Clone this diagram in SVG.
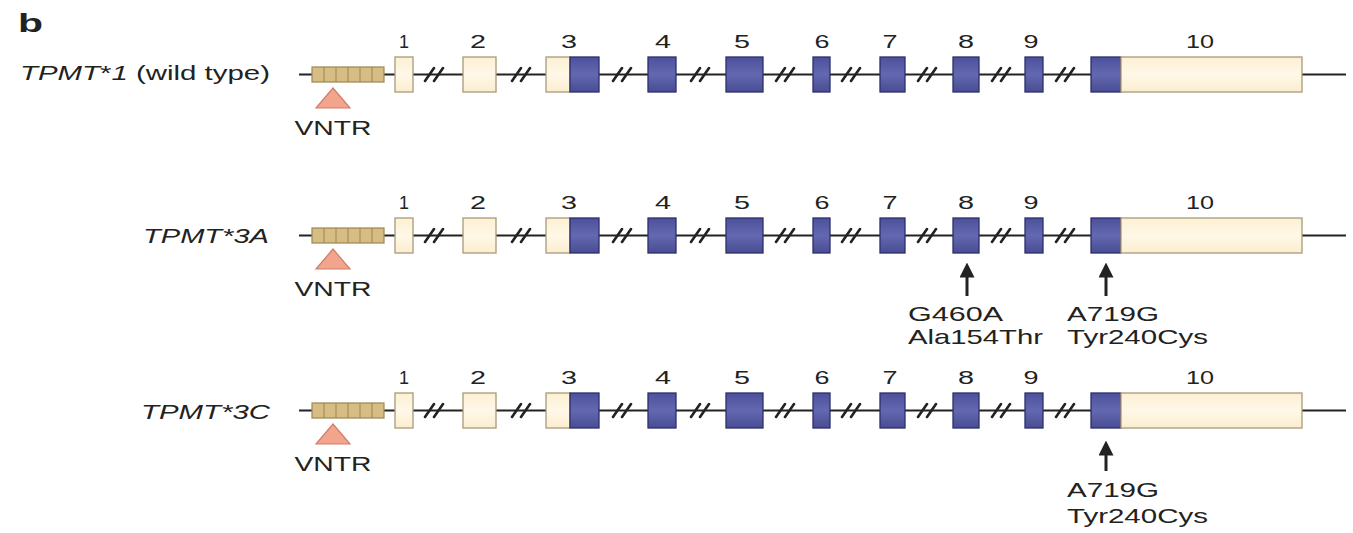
<svg xmlns="http://www.w3.org/2000/svg" width="1353" height="533" viewBox="0 0 1353 533">
  <style>
    text { font-family: "Liberation Sans", Arial, sans-serif; fill: #222; }
    .panel { font-weight: bold; font-size: 25px; }
    .name { font-size: 20px; }
    .it { font-style: italic; }
    .num { font-size: 18px; text-anchor: middle; }
    .vntr-label { font-size: 20px; text-anchor: middle; }
    .mut { font-size: 21px; }
    .intron { stroke: #222; stroke-width: 2; fill: none; }
    .brk { stroke: #222; stroke-width: 2.6; stroke-linecap: round; fill: none; }
    .utr { fill: url(#utrFill); stroke: #a89a7c; stroke-width: 1.3; }
    .cds { fill: url(#cdsFill); stroke: #2c2f6c; stroke-width: 1.3; }
    .rep { fill: #d6bd83; stroke: #9c8650; stroke-width: 1.2; }
    .rep-div { stroke: #9c8650; stroke-width: 1; }
    .tri { fill: #f3a48c; stroke: #cf7f68; stroke-width: 1.2; }
    .arrow { stroke: #222; stroke-width: 3; marker-end: url(#head); }
  </style>
  <defs>
    <linearGradient id="cdsFill" x1="0" y1="0" x2="0" y2="1">
      <stop offset="0" stop-color="#4d519b"/>
      <stop offset="0.5" stop-color="#6368b0"/>
      <stop offset="1" stop-color="#484c93"/>
    </linearGradient>
    <linearGradient id="utrFill" x1="0" y1="0" x2="0" y2="1">
      <stop offset="0" stop-color="#fdf0d2"/>
      <stop offset="0.5" stop-color="#fff8e8"/>
      <stop offset="1" stop-color="#fbedcf"/>
    </linearGradient>
    <marker id="head" markerWidth="5" markerHeight="5" refX="2.5" refY="2.5" orient="auto" markerUnits="strokeWidth">
      <path d="M0,0 L5,2.5 L0,5 Z" fill="#222"/>
    </marker>
    <!-- shared gene model: intron line, VNTR repeat, exons 1-10, intron breaks, exon numbers -->
    <g id="gene">
      <path class="intron" d="M299 74.5 H1346"/>
      <rect class="rep" x="312" y="67" width="72" height="15"/>
      <path class="rep-div" d="M324 67v15M336 67v15M348 67v15M360 67v15M372 67v15"/>
      <polygon class="tri" points="333,88 316,108 350,108"/>
      <text class="vntr-label" x="333" y="135" textLength="77" lengthAdjust="spacingAndGlyphs">VNTR</text>
      <rect class="utr" x="395" y="57" width="18" height="35"/>
      <rect class="utr" x="463" y="57" width="33" height="35"/>
      <rect class="utr" x="546" y="57" width="24" height="35"/>
      <rect class="cds" x="570" y="57" width="29" height="35"/>
      <rect class="cds" x="648" y="57" width="28" height="35"/>
      <rect class="cds" x="726" y="57" width="37" height="35"/>
      <rect class="cds" x="813" y="57" width="17" height="35"/>
      <rect class="cds" x="880" y="57" width="25" height="35"/>
      <rect class="cds" x="953" y="57" width="26" height="35"/>
      <rect class="cds" x="1025" y="57" width="18" height="35"/>
      <rect class="cds" x="1091" y="57" width="30" height="35"/>
      <rect class="utr" x="1121" y="57" width="181" height="35"/>
      <path class="brk" d="M425 81l9-13M434 81l9-13 M512 81l9-13M521 81l9-13 M613 81l9-13M622 81l9-13 M691 81l9-13M700 81l9-13 M776 81l9-13M785 81l9-13 M842 81l9-13M851 81l9-13 M918 81l9-13M927 81l9-13 M992 81l9-13M1001 81l9-13 M1056 81l9-13M1065 81l9-13"/>
      <text class="num" x="404" y="48" textLength="10" lengthAdjust="spacingAndGlyphs">1</text>
      <text class="num" x="478" y="48" textLength="16" lengthAdjust="spacingAndGlyphs">2</text>
      <text class="num" x="569" y="48" textLength="16" lengthAdjust="spacingAndGlyphs">3</text>
      <text class="num" x="663" y="48" textLength="16" lengthAdjust="spacingAndGlyphs">4</text>
      <text class="num" x="742" y="48" textLength="16" lengthAdjust="spacingAndGlyphs">5</text>
      <text class="num" x="822" y="48" textLength="15" lengthAdjust="spacingAndGlyphs">6</text>
      <text class="num" x="890" y="48" textLength="15" lengthAdjust="spacingAndGlyphs">7</text>
      <text class="num" x="966" y="48" textLength="16" lengthAdjust="spacingAndGlyphs">8</text>
      <text class="num" x="1031" y="48" textLength="15" lengthAdjust="spacingAndGlyphs">9</text>
      <text class="num" x="1200" y="48" textLength="28" lengthAdjust="spacingAndGlyphs">10</text>
    </g>
  </defs>

  <text class="panel" x="18" y="32" textLength="25" lengthAdjust="spacingAndGlyphs">b</text>

  <!-- wild-type allele -->
  <g id="tpmt1">
    <use href="#gene"/>
    <text class="name" x="20" y="80" textLength="250" lengthAdjust="spacingAndGlyphs"><tspan class="it">TPMT</tspan>*<tspan class="it">1</tspan> (wild type)</text>
  </g>

  <!-- TPMT*3A allele -->
  <g id="tpmt3a" transform="translate(0,161)">
    <use href="#gene"/>
    <text class="name it" x="143" y="82" textLength="126" lengthAdjust="spacingAndGlyphs">TPMT*3A</text>
  </g>

  <!-- TPMT*3C allele -->
  <g id="tpmt3c" transform="translate(0,336)">
    <use href="#gene"/>
    <text class="name it" x="141" y="83" textLength="129" lengthAdjust="spacingAndGlyphs">TPMT*3C</text>
  </g>

  <!-- mutation pointers -->
  <g id="connectors">
    <line class="arrow" x1="967" y1="296" x2="967" y2="270"/>
    <line class="arrow" x1="1106" y1="296" x2="1106" y2="270"/>
    <line class="arrow" x1="1106" y1="471" x2="1106" y2="448"/>
  </g>

  <g id="mut-g460a">
    <text class="mut" x="908" y="321" textLength="95" lengthAdjust="spacingAndGlyphs">G460A</text>
    <text class="mut" x="908" y="344" textLength="135" lengthAdjust="spacingAndGlyphs">Ala154Thr</text>
  </g>
  <g id="mut-a719g-3a">
    <text class="mut" x="1067" y="321" textLength="92" lengthAdjust="spacingAndGlyphs">A719G</text>
    <text class="mut" x="1067" y="344" textLength="141" lengthAdjust="spacingAndGlyphs">Tyr240Cys</text>
  </g>
  <g id="mut-a719g-3c">
    <text class="mut" x="1067" y="497" textLength="92" lengthAdjust="spacingAndGlyphs">A719G</text>
    <text class="mut" x="1067" y="523" textLength="141" lengthAdjust="spacingAndGlyphs">Tyr240Cys</text>
  </g>
</svg>
